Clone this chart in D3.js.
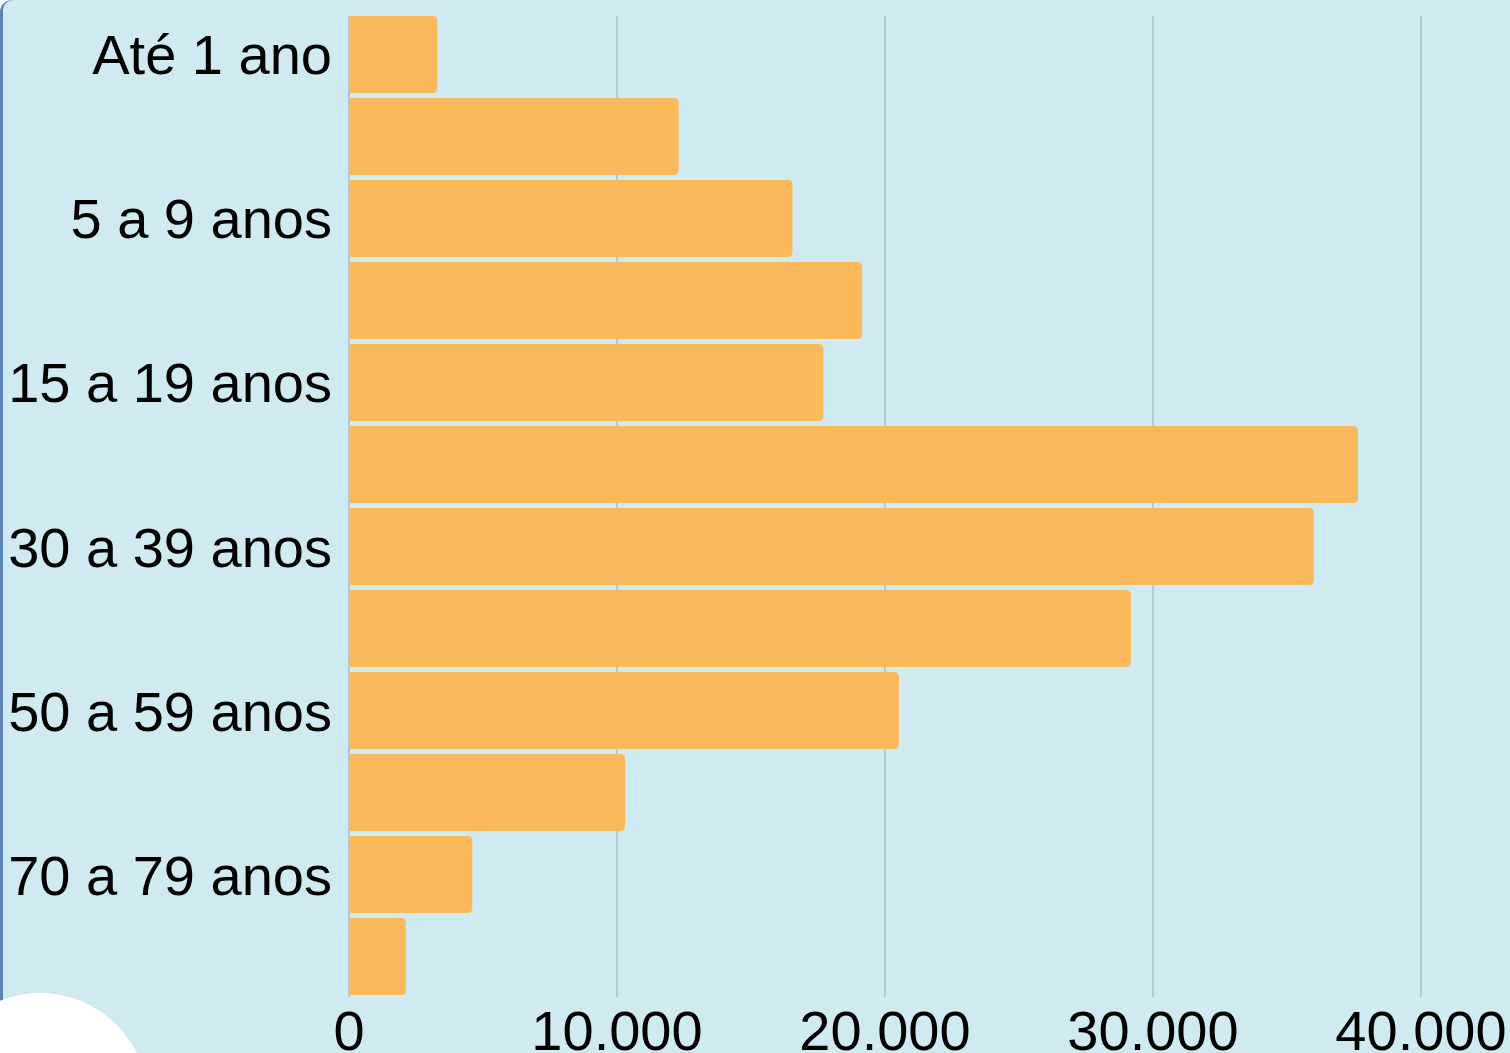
<!DOCTYPE html>
<meta charset="utf-8">
<style>
  html, body { margin: 0; padding: 0; background: #fff; overflow: hidden; }
  svg { display: block; }
  .lbl { font-family: "Liberation Sans", Arial, sans-serif; font-size: 56px; fill: #000; }
</style>
<body>
<svg width="1510" height="1053"></svg>
<script src="https://cdnjs.cloudflare.com/ajax/libs/d3/7.8.5/d3.min.js"></script>
<script>
// age groups and counts
var categories = ["Até 1 ano", "1 a 4 anos", "5 a 9 anos", "10 a 14 anos", "15 a 19 anos",
                  "20 a 29 anos", "30 a 39 anos", "40 a 49 anos", "50 a 59 anos",
                  "60 a 69 anos", "70 a 79 anos", "80 anos e mais"];
var values = [3300, 12300, 16550, 19150, 17700, 37650, 36000, 29180, 20520, 10300, 4600, 2120];
var xTicks = [0, 10000, 20000, 30000, 40000];

var svg = d3.select("svg");

// panel background (blue edge + light blue fill)
svg.append("rect").attr("x", 0).attr("y", 0).attr("width", 1540).attr("height", 1100)
  .attr("rx", 12).attr("fill", "#5d84b6");
svg.append("rect").attr("x", 3).attr("y", 0).attr("width", 1540).attr("height", 1100)
  .attr("rx", 10).attr("fill", "#cfeaf0");

var x = d3.scaleLinear().domain([0, 40000]).range([349, 1421]);
var y = d3.scaleBand().domain(categories).range([16, 995]).paddingInner(0.061).paddingOuter(0);

// gridlines
svg.append("g").selectAll("line")
  .data(xTicks)
  .enter().append("line")
    .attr("x1", function(d) { return x(d); })
    .attr("x2", function(d) { return x(d); })
    .attr("y1", 16)
    .attr("y2", 997)
    .attr("stroke", "#a8c2cc")
    .attr("stroke-width", 1.5);

// bars with rounded right end
var r = 5;
svg.append("g").selectAll("path")
  .data(values)
  .enter().append("path")
    .attr("fill", "#fab95b")
    .attr("d", function(d, i) {
      var x0 = x(0), x1 = x(d), y0 = y(categories[i]), h = y.bandwidth();
      return "M" + x0 + "," + y0 +
             "H" + (x1 - r) +
             "Q" + x1 + "," + y0 + " " + x1 + "," + (y0 + r) +
             "V" + (y0 + h - r) +
             "Q" + x1 + "," + (y0 + h) + " " + (x1 - r) + "," + (y0 + h) +
             "H" + x0 + "Z";
    });

// category labels (every other one)
svg.append("g").selectAll("text")
  .data(categories.filter(function(d, i) { return i % 2 === 0; }))
  .enter().append("text")
    .attr("class", "lbl")
    .attr("x", 332)
    .attr("y", function(d) { return y(d) + y.bandwidth() / 2 + 20; })
    .attr("text-anchor", "end")
    .text(function(d) { return d; });

// x tick labels
var fmt = d3.formatLocale({ decimal: ",", thousands: ".", grouping: [3], currency: ["R$", ""] }).format(",d");
svg.append("g").selectAll("text")
  .data(xTicks)
  .enter().append("text")
    .attr("class", "lbl")
    .attr("x", function(d) { return x(d); })
    .attr("y", 1050)
    .attr("text-anchor", "middle")
    .text(function(d) { return fmt(d); });

// white circle at bottom left
svg.append("circle").attr("cx", 40).attr("cy", 1101).attr("r", 108).attr("fill", "#fff");
</script>
</body>
